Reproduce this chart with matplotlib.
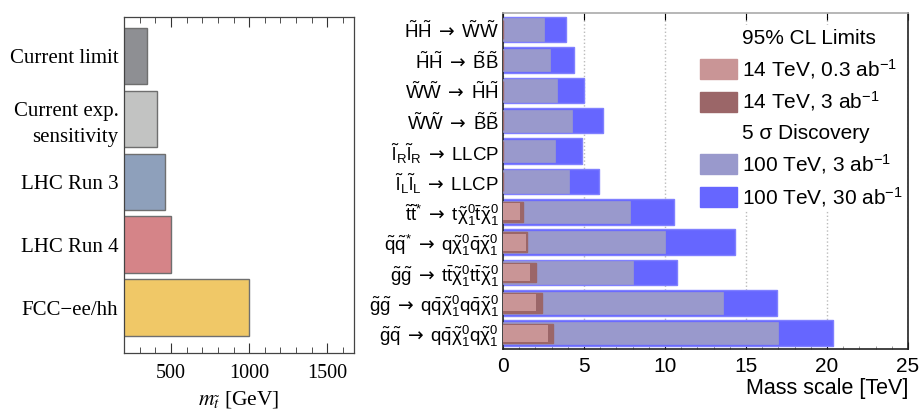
import matplotlib
matplotlib.use("Agg")
import matplotlib.pyplot as plt
from matplotlib.patches import Patch
from matplotlib.ticker import MultipleLocator

plt.rcParams['mathtext.fontset'] = 'custom'
plt.rcParams['mathtext.rm'] = 'Liberation Sans'
plt.rcParams['mathtext.it'] = 'Liberation Sans'
plt.rcParams['mathtext.bf'] = 'Liberation Sans:bold'
plt.rcParams['mathtext.sf'] = 'DejaVu Sans'
plt.rcParams['mathtext.fallback'] = 'stixsans'
plt.rcParams['font.family'] = ['Liberation Sans', 'DejaVu Sans']

# ---------------- data: left panel ----------------
left_labels = ["Current limit", "Current exp.\nsensitivity", "LHC Run 3", "LHC Run 4", "FCC\u2212ee/hh"]
left_values = [345, 413, 465, 503, 1000]
left_colors = ["#8e8f93", "#c2c3c2", "#8ea0bb", "#d58488", "#f0c867"]

# ---------------- data: right panel ----------------
A = r"\;\mathsf{\rightarrow}\;"
right_labels = [
    r"$\tilde{H}\tilde{H}" + A + r"\tilde{W}\tilde{W}$",
    r"$\tilde{H}\tilde{H}" + A + r"\tilde{B}\tilde{B}$",
    r"$\tilde{W}\tilde{W}" + A + r"\tilde{H}\tilde{H}$",
    r"$\tilde{W}\tilde{W}" + A + r"\tilde{B}\tilde{B}$",
    r"$\tilde{l}_R\tilde{l}_R" + A + r"\mathrm{LLCP}$",
    r"$\tilde{l}_L\tilde{l}_L" + A + r"\mathrm{LLCP}$",
    r"$\tilde{t}\tilde{t}^{*}" + A + r"t\tilde{\chi}_1^0\bar{t}\tilde{\chi}_1^0$",
    r"$\tilde{q}\tilde{q}^{*}" + A + r"q\tilde{\chi}_1^0\bar{q}\tilde{\chi}_1^0$",
    r"$\tilde{g}\tilde{g}" + A + r"t\bar{t}\tilde{\chi}_1^0t\bar{t}\tilde{\chi}_1^0$",
    r"$\tilde{g}\tilde{g}" + A + r"q\bar{q}\tilde{\chi}_1^0q\bar{q}\tilde{\chi}_1^0$",
    r"$\tilde{g}\tilde{q}" + A + r"q\bar{q}\tilde{\chi}_1^0q\tilde{\chi}_1^0$",
]
lhc14_03 = [0, 0, 0, 0, 0, 0, 1.07, 1.44, 1.67, 2.06, 2.78]
lhc14_3 = [0, 0, 0, 0, 0, 0, 1.23, 1.50, 2.04, 2.43, 3.09]
fcc100_3 = [2.53, 2.88, 3.36, 4.24, 3.23, 4.05, 7.82, 10.0, 8.02, 13.6, 17.0]
fcc100_30 = [3.89, 4.38, 4.98, 6.15, 4.86, 5.90, 10.54, 14.32, 10.74, 16.9, 20.37]

fig = plt.figure(figsize=(9.19, 4.15), dpi=100)

# ---------------- left panel ----------------
axL = fig.add_axes([124/919, 1-353/415, (354-124)/919, (353-17)/415])
yl = list(range(len(left_labels)))
axL.barh(yl, left_values, height=0.9, color=left_colors, edgecolor="#6f6f6f", linewidth=1.0)
axL.set_xlim(200, 1670)
axL.set_ylim(4.72, -0.62)
axL.set_yticks(yl)
axL.set_yticklabels(left_labels, family=["Liberation Serif"], fontsize=15, linespacing=1.45)
axL.tick_params(axis='y', length=0, pad=4)
axL.set_xticks([500, 1000, 1500])
axL.set_xticklabels(["500", "1000", "1500"], family=["Liberation Serif"], fontsize=14.5)
axL.xaxis.set_minor_locator(MultipleLocator(100))
axL.tick_params(axis='x', which='both', direction='in', top=True, color="#333333")
axL.tick_params(axis='x', which='major', length=7, pad=8)
axL.tick_params(axis='x', which='minor', length=4)
for s in axL.spines.values():
    s.set_color("#444444")
    s.set_linewidth(0.9)
axL.set_xlabel(r"$m_{\tilde{t}}$ [GeV]", family=["Liberation Serif"], fontsize=15.5,
               math_fontfamily='stix', labelpad=4)

# ---------------- right panel ----------------
axR = fig.add_axes([503/919, 1-349/415, (908-503)/919, (349-13)/415])
yr = list(range(len(right_labels)))
axR.barh(yr, fcc100_30, height=0.84, color="#6666ff", edgecolor="#8080ff", linewidth=1.0, zorder=2)
axR.barh(yr, fcc100_3, height=0.74, color="#9999cc", edgecolor="#9999cc", linewidth=0.5, zorder=3)
axR.barh(yr, lhc14_3, height=0.64, color="#9b6668", edgecolor="#9b6668", linewidth=1.0, zorder=4)
axR.barh(yr, lhc14_03, height=0.56, color="#c99596", edgecolor="none", zorder=5)
axR.set_xlim(0, 25)
axR.set_ylim(10.52, -0.55)
axR.set_yticks(yr)
axR.set_yticklabels(right_labels, fontsize=13.5)
axR.tick_params(axis='y', length=0, pad=3)
axR.set_xticks([0, 5, 10, 15, 20, 25])
axR.tick_params(axis='x', which='major', labelsize=15, direction='in', length=5, top=True, pad=6)
axR.xaxis.set_minor_locator(MultipleLocator(1))
axR.tick_params(axis='x', which='minor', direction='in', length=2.5, color="#888888")
axR.grid(axis='x', which='major', linestyle=':', color="#bbbbbb", linewidth=1.0, zorder=0)
axR.set_axisbelow(True)
for s in axR.spines.values():
    s.set_color("#222222")
    s.set_linewidth(1.2)
axR.spines['top'].set_color("#aaaaaa")
axR.set_xlabel("Mass scale [TeV]", fontsize=15.5, loc='right', labelpad=1)

handles = [
    Patch(facecolor="none", edgecolor="none"),
    Patch(facecolor="#c99596", edgecolor="#c99596"),
    Patch(facecolor="#9b6668", edgecolor="#9b6668"),
    Patch(facecolor="none", edgecolor="none"),
    Patch(facecolor="#9999cc", edgecolor="#9999cc"),
    Patch(facecolor="#6666ff", edgecolor="#6666ff"),
]
labels = ["95% CL Limits", r"14 TeV, 0.3 ab$^{-1}$", r"14 TeV, 3 ab$^{-1}$",
          "5 \u03c3 Discovery", r"100 TeV, 3 ab$^{-1}$", r"100 TeV, 30 ab$^{-1}$"]
leg = axR.legend(handles, labels, loc='upper left', bbox_to_anchor=(698/919, 1-25/415),
                 bbox_transform=fig.transFigure, fontsize=15, frameon=True, framealpha=1,
                 facecolor="white", edgecolor="none", borderpad=0.1, borderaxespad=0,
                 handlelength=1.78, handleheight=1.1, handletextpad=0.22, labelspacing=0.42)
leg.set_zorder(10)

fig.savefig("out.png", dpi=100)
